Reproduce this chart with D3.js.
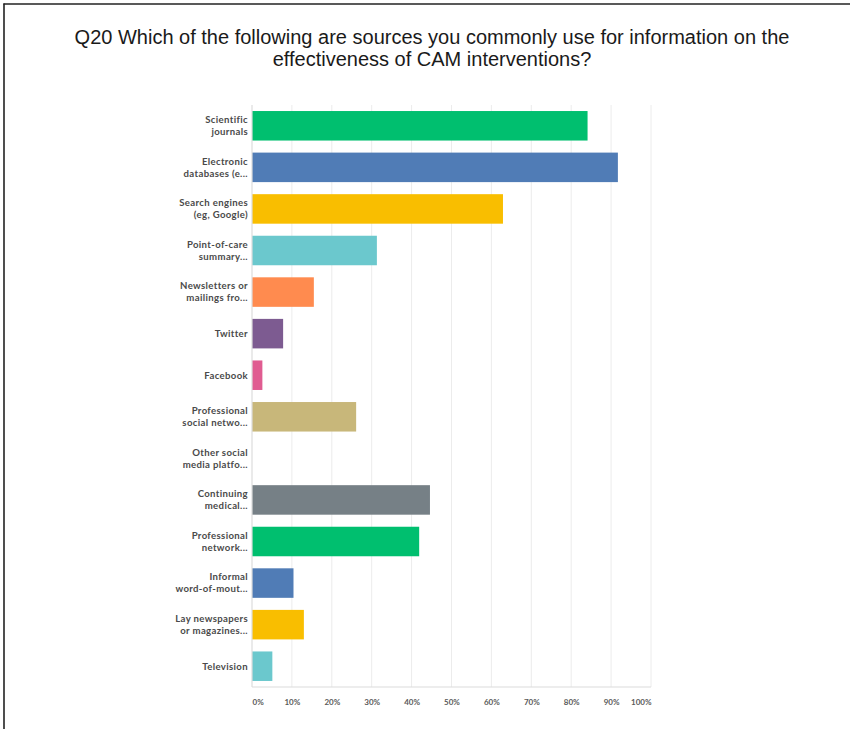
<!DOCTYPE html>
<html>
<head>
<meta charset="utf-8">
<script src="https://cdn.jsdelivr.net/npm/d3@7/dist/d3.min.js"></script>
<style>
  html, body { margin: 0; padding: 0; background: #fff; }
  svg { display: block; }
</style>
</head>
<body>
<svg id="chart" width="850" height="729"></svg>
<script>
// Survey answer options (two-line wrapped labels) and share of respondents
const categories = [
  ["Scientific", "journals"],
  ["Electronic", "databases (e..."],
  ["Search engines", "(eg, Google)"],
  ["Point-of-care", "summary..."],
  ["Newsletters or", "mailings fro..."],
  ["Twitter"],
  ["Facebook"],
  ["Professional", "social netwo..."],
  ["Other social", "media platfo..."],
  ["Continuing", "medical..."],
  ["Professional", "network..."],
  ["Informal", "word-of-mout..."],
  ["Lay newspapers", "or magazines..."],
  ["Television"]
];
const values = [84.1, 91.7, 62.9, 31.3, 15.5, 7.8, 2.6, 26.1, 0, 44.6, 41.9, 10.4, 13.0, 5.1];
const colors = ["#00bf6f", "#507cb6", "#f9be00", "#6bc8cd", "#ff8b4f", "#7d5b91", "#e05c91",
                "#c8b77a", "#a0a0a0", "#768086", "#00bf6f", "#507cb6", "#f9be00", "#6bc8cd"];
const tickValues = [0, 10, 20, 30, 40, 50, 60, 70, 80, 90, 100];
const titleLines = [
  "Q20 Which of the following are sources you commonly use for information on the",
  "effectiveness of CAM interventions?"
];

const svg = d3.select("#chart");

// page frame (top and left rules)
svg.append("line").attr("x1", 3.5).attr("x2", 850).attr("y1", 4).attr("y2", 4)
  .attr("stroke", "#222").attr("stroke-width", 1.6);
svg.append("line").attr("x1", 4).attr("x2", 4).attr("y1", 3.5).attr("y2", 729)
  .attr("stroke", "#222").attr("stroke-width", 1.6);

// title
svg.append("g").selectAll("text").data(titleLines).join("text")
  .attr("x", 432).attr("y", (d, i) => 44 + i * 22)
  .attr("text-anchor", "middle")
  .style("font-family", "'Liberation Sans', Arial, sans-serif")
  .style("font-size", "20px")
  .attr("fill", "#1a1a1a")
  .text(d => d);

const plot = { left: 252, right: 651, top: 105, bottom: 687 };

const x = d3.scaleLinear().domain([0, 100]).range([plot.left, plot.right]);
const y = d3.scaleBand().domain(d3.range(categories.length))
  .range([plot.top, plot.bottom]).paddingInner(0.29).paddingOuter(0.145);

// vertical gridlines
svg.append("g").selectAll("line").data(tickValues.slice(1)).join("line")
  .attr("x1", d => x(d)).attr("x2", d => x(d))
  .attr("y1", plot.top).attr("y2", plot.bottom)
  .attr("stroke", "#ececec").attr("stroke-width", 1);

// bars
svg.append("g").selectAll("rect").data(values).join("rect")
  .attr("x", x(0))
  .attr("y", (d, i) => y(i))
  .attr("width", d => x(d) - x(0))
  .attr("height", y.bandwidth())
  .attr("fill", (d, i) => colors[i]);

// axis baselines
svg.append("line").attr("x1", plot.left).attr("x2", plot.left)
  .attr("y1", plot.top).attr("y2", plot.bottom)
  .attr("stroke", "#dcdcdc").attr("stroke-width", 1.2);
svg.append("line").attr("x1", plot.left).attr("x2", plot.right)
  .attr("y1", plot.bottom).attr("y2", plot.bottom)
  .attr("stroke", "#dcdcdc").attr("stroke-width", 1.2);

// x tick labels
const xAxis = d3.axisBottom(x).tickValues(tickValues).tickSize(0).tickPadding(0)
  .tickFormat(d => d + "%");
const gx = svg.append("g").attr("transform", `translate(0,${plot.bottom + 12})`).call(xAxis);
gx.select(".domain").remove();
gx.selectAll("text")
  .style("font-family", "Lato, 'Open Sans', sans-serif")
  .style("font-size", "8px")
  .style("font-weight", "bold")
  .attr("fill", "#5a5a5a")
  .attr("text-anchor", (d, i) => i === 0 ? "start" : (i === tickValues.length - 1 ? "end" : "middle"));

// category labels
const labels = svg.append("g").selectAll("text").data(categories).join("text")
  .attr("text-anchor", "end")
  .style("font-family", "Lato, 'Open Sans', sans-serif")
  .style("font-size", "9.6px")
  .style("font-weight", "bold")
  .style("letter-spacing", "0.35px")
  .attr("fill", "#4a4a4a");
labels.each(function (lines, i) {
  const cy = y(i) + y.bandwidth() / 2;
  const lh = 12;
  const start = cy - (lines.length - 1) * lh / 2 + 3.3;
  d3.select(this).selectAll("tspan").data(lines).join("tspan")
    .attr("x", plot.left - 4)
    .attr("y", (d, j) => start + j * lh)
    .text(d => d);
});
</script>
</body>
</html>
